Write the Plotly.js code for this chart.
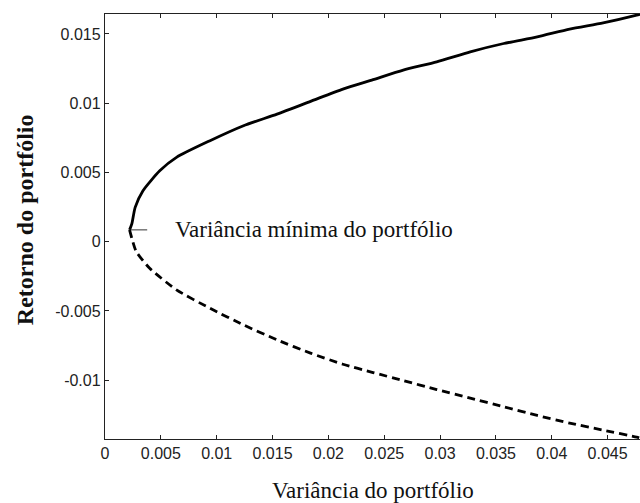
<!DOCTYPE html>
<html>
<head>
<meta charset="utf-8">
<script src="https://cdn.plot.ly/plotly-3.0.1.min.js"></script>
<style>html,body{margin:0;padding:0;background:#fff;}#chart{width:640px;height:503px;}</style>
</head>
<body>
<div id="chart"></div>
<script>
// Efficient frontier (upper branch, solid)
const upperVar = [0.0022, 0.0024, 0.0027, 0.0034, 0.0049, 0.0064, 0.0094, 0.0124, 0.0154, 0.0184, 0.0213, 0.0240, 0.0267, 0.0297, 0.0327, 0.0357, 0.0387, 0.0416, 0.0446, 0.0476, 0.0480];
const upperRet = [0.00085, 0.00128, 0.00248, 0.00368, 0.00512, 0.00609, 0.00729, 0.00837, 0.00921, 0.01013, 0.01102, 0.01170, 0.01239, 0.01299, 0.01371, 0.01431, 0.01479, 0.01535, 0.01580, 0.01636, 0.01645];
// Inefficient branch (lower, dashed)
const lowerVar = [0.0022, 0.0024, 0.0028, 0.0040, 0.0064, 0.0094, 0.0124, 0.0154, 0.0184, 0.0213, 0.0240, 0.0267, 0.0297, 0.0327, 0.0357, 0.0387, 0.0416, 0.0446, 0.0476, 0.0480];
const lowerRet = [0.00085, 0.00025, -0.00072, -0.00192, -0.00348, -0.00481, -0.00601, -0.00709, -0.00805, -0.00885, -0.00945, -0.01003, -0.01068, -0.01130, -0.01192, -0.01255, -0.01310, -0.01361, -0.01411, -0.01420];
// Minimum variance portfolio
const minVar = 0.0023;
const minRet = 0.00085;

const xTicks = [0, 0.005, 0.01, 0.015, 0.02, 0.025, 0.03, 0.035, 0.04, 0.045];
const xTickText = ["0", "0.005", "0.01", "0.015", "0.02", "0.025", "0.03", "0.035", "0.04", "0.045"];
const yTicks = [-0.01, -0.005, 0, 0.005, 0.01, 0.015];
const yTickText = ["-0.01", "-0.005", "0", "0.005", "0.01", "0.015"];

const xTitle = "Variância do portfólio";
const yTitle = "Retorno do portfólio";
const minLabel = "Variância mínima do portfólio";

const serif = 'Liberation Serif, Times New Roman, serif';
const sans = 'Liberation Sans, Arial, sans-serif';

const traces = [
  {x: upperVar, y: upperRet, mode: 'lines', line: {color: '#000', width: 2.8, shape: 'spline', smoothing: 0.6}, hoverinfo: 'skip', showlegend: false},
  {x: lowerVar, y: lowerRet, mode: 'lines', line: {color: '#000', width: 2.8, dash: '8px,5px', shape: 'spline', smoothing: 0.6}, hoverinfo: 'skip', showlegend: false}
];

const layout = {
  width: 640, height: 503,
  margin: {l: 105, r: 0, t: 14, b: 64, pad: 0},
  paper_bgcolor: '#fff', plot_bgcolor: '#fff',
  showlegend: false,
  font: {family: sans, size: 16, color: '#222'},
  xaxis: {
    range: [0, 0.0479], showgrid: false, zeroline: false,
    showline: true, linecolor: '#222', linewidth: 1.2, mirror: 'ticks',
    ticks: 'inside', ticklen: 4, tickcolor: '#222',
    tickvals: xTicks, ticktext: xTickText,
    tickfont: {family: sans, size: 16, color: '#222'}
  },
  yaxis: {
    range: [-0.01425, 0.01644], showgrid: false, zeroline: false,
    showline: true, linecolor: '#222', linewidth: 1.2, mirror: false,
    ticks: 'inside', ticklen: 4, tickcolor: '#222',
    tickvals: yTicks, ticktext: yTickText,
    tickfont: {family: sans, size: 16, color: '#222'}
  },
  annotations: [
    {x: minVar, y: minRet, xref: 'x', yref: 'y', text: minLabel,
     showarrow: true, arrowhead: 0, arrowwidth: 1, arrowcolor: '#333',
     ax: 183, ay: 0, startstandoff: 26,
     font: {family: serif, size: 23, color: '#111'}},
    {x: 0.5, y: 0, xref: 'paper', yref: 'paper', yshift: -51, yanchor: 'middle', xanchor: 'center',
     text: xTitle, showarrow: false,
     font: {family: serif, size: 23, color: '#111'}},
    {x: 0, y: 0.515, xref: 'paper', yref: 'paper', xshift: -80, xanchor: 'center', yanchor: 'middle',
     text: '<b>' + yTitle + '</b>', showarrow: false, textangle: -90,
     font: {family: serif, size: 24, color: '#111'}}
  ]
};

Plotly.newPlot('chart', traces, layout, {staticPlot: true, displayModeBar: false});
</script>
</body>
</html>
